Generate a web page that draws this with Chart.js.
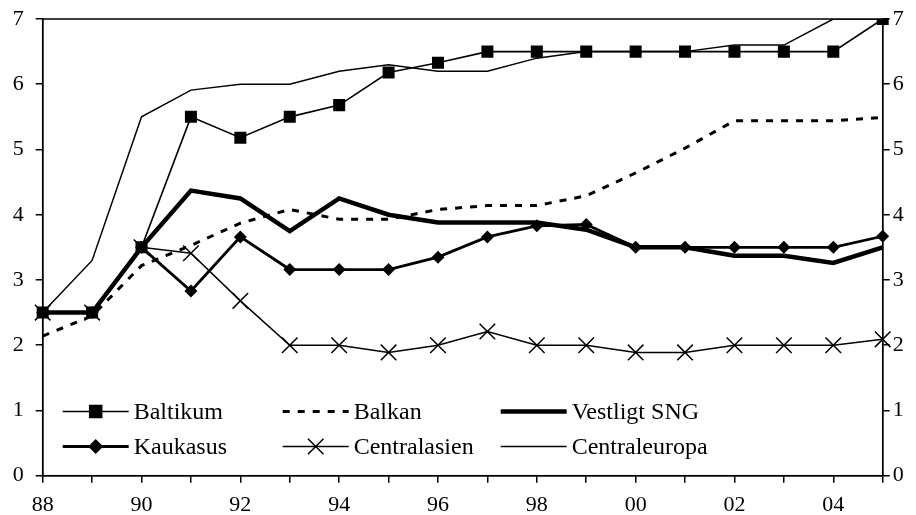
<!DOCTYPE html>
<html>
<head>
<meta charset="utf-8">
<script src="https://cdn.jsdelivr.net/npm/chart.js@4/dist/chart.umd.min.js"></script>
<style>
  body { margin: 0; background: #fff; }
  #wrap { width: 916px; height: 515px; }
</style>
</head>
<body>
<div id="wrap"><canvas id="chart"></canvas></div>
<script>
// years 1988-2005
const years = ['88', '89', '90', '91', '92', '93', '94', '95', '96', '97', '98', '99', '00', '01', '02', '03', '04', '05'];
const yTicks = [0, 1, 2, 3, 4, 5, 6, 7];

const baltikum      = [2.5, 2.5, 3.5, 5.5, 5.18, 5.5, 5.68, 6.18, 6.33, 6.5, 6.5, 6.5, 6.5, 6.5, 6.5, 6.5, 6.5, 7.0];
const balkan        = [2.14, 2.45, 3.22, 3.53, 3.87, 4.08, 3.93, 3.93, 4.08, 4.14, 4.14, 4.29, 4.64, 5.02, 5.44, 5.44, 5.44, 5.49];
const vestligtSNG   = [2.5, 2.5, 3.5, 4.37, 4.25, 3.75, 4.25, 4.0, 3.88, 3.88, 3.88, 3.77, 3.5, 3.5, 3.37, 3.37, 3.26, 3.5];
const kaukasus      = [2.5, 2.5, 3.5, 2.83, 3.66, 3.16, 3.16, 3.16, 3.35, 3.66, 3.83, 3.85, 3.5, 3.5, 3.5, 3.5, 3.5, 3.67];
const centralasien  = [2.5, 2.5, 3.5, 3.41, 2.68, 2.0, 2.0, 1.89, 2.0, 2.21, 2.0, 2.0, 1.89, 1.89, 2.0, 2.0, 2.0, 2.09];
const centraleuropa = [2.5, 3.3, 5.5, 5.91, 6.0, 6.0, 6.2, 6.3, 6.2, 6.2, 6.4, 6.5, 6.5, 6.5, 6.6, 6.6, 7.0, 7.0];

const serif = 'Liberation Serif';

// legend drawn inside the plot, 3 columns x 2 rows
const innerLegend = {
    id: 'innerLegend',
    afterDatasetsDraw(chart) {
        const ctx = chart.ctx;
        const cols = [20, 240, 458];
        const rows = [411.5, 446.5];
        ctx.save();
        chart.data.datasets.forEach((ds, i) => {
            const x0 = chart.chartArea.left + cols[i % 3];
            const y = rows[Math.floor(i / 3)];
            ctx.strokeStyle = '#000';
            ctx.lineWidth = ds.borderWidth;
            ctx.setLineDash(ds.borderDash || []);
            ctx.beginPath();
            ctx.moveTo(x0, y);
            ctx.lineTo(x0 + 66, y);
            ctx.stroke();
            ctx.setLineDash([]);
            if (ds.pointRadius > 0) {
                ctx.fillStyle = '#000';
                ctx.lineWidth = ds.pointBorderWidth || 1.5;
                Chart.helpers.drawPoint(ctx, {
                    pointStyle: ds.pointStyle,
                    radius: ds.pointRadius,
                    rotation: 0,
                    borderWidth: ds.pointBorderWidth || 1.5
                }, x0 + 33, y);
            }
            ctx.fillStyle = '#000';
            ctx.font = '24px "' + serif + '"';
            ctx.textBaseline = 'middle';
            ctx.fillText(ds.label, x0 + 71, y + 1);
        });
        // plot frame
        const a = chart.chartArea;
        ctx.strokeStyle = '#000';
        ctx.lineWidth = 1.5;
        ctx.strokeRect(a.left, a.top, a.right - a.left, a.bottom - a.top);
        ctx.restore();
    }
};

const tickFont = { family: serif, size: 22 };
const yTickFont = { family: serif, size: 22, lineHeight: 0.5 };

new Chart(document.getElementById('chart'), {
    type: 'line',
    data: {
        labels: years,
        datasets: [
            { label: 'Baltikum', data: baltikum, borderColor: '#000', backgroundColor: '#000', borderWidth: 1.6,
              pointStyle: 'rect', pointRadius: 8.5, pointBorderWidth: 0 },
            { label: 'Balkan', data: balkan, borderColor: '#000', borderWidth: 3, borderDash: [7, 8],
              pointRadius: 0 },
            { label: 'Vestligt SNG', data: vestligtSNG, borderColor: '#000', borderWidth: 4.5,
              pointRadius: 0 },
            { label: 'Kaukasus', data: kaukasus, borderColor: '#000', backgroundColor: '#000', borderWidth: 2.8,
              pointStyle: 'rectRot', pointRadius: 6.5, pointBorderWidth: 0 },
            { label: 'Centralasien', data: centralasien, borderColor: '#000', backgroundColor: '#000', borderWidth: 1.5,
              pointStyle: 'crossRot', pointRadius: 11, pointBorderWidth: 1.5 },
            { label: 'Centraleuropa', data: centraleuropa, borderColor: '#000', borderWidth: 1.5,
              pointRadius: 0 }
        ]
    },
    options: {
        responsive: true,
        maintainAspectRatio: false,
        animation: false,
        layout: { padding: { top: 19, left: 0, right: 0, bottom: 0 } },
        elements: { line: { tension: 0 } },
        plugins: {
            legend: { display: false },
            tooltip: { enabled: false }
        },
        scales: {
            x: {
                type: 'category',
                offset: false,
                grid: { display: true, drawOnChartArea: false, drawTicks: true, tickLength: 7, color: '#000', lineWidth: 1.5 },
                border: { display: true, color: '#000', width: 1.5 },
                ticks: {
                    color: '#000', font: tickFont, padding: 9, maxRotation: 0, autoSkip: false,
                    callback: (v, i) => (i % 2 === 0 ? years[i] : '')
                },
                afterFit: s => { s.height = 39.3; }
            },
            y: {
                position: 'left',
                min: 0, max: 7,
                afterBuildTicks: s => { s.ticks = yTicks.map(v => ({ value: v })); },
                grid: { display: true, drawOnChartArea: false, drawTicks: true, tickLength: 7, color: '#000', lineWidth: 1.5 },
                border: { display: true, color: '#000', width: 1.5 },
                ticks: { color: '#000', font: yTickFont, padding: 12 },
                afterFit: s => { s.width = 42.7; }
            },
            y2: {
                position: 'right',
                min: 0, max: 7,
                afterBuildTicks: s => { s.ticks = yTicks.map(v => ({ value: v })); },
                grid: { display: true, drawOnChartArea: false, drawTicks: true, tickLength: 7, color: '#000', lineWidth: 1.5 },
                border: { display: true, color: '#000', width: 1.5 },
                ticks: { color: '#000', font: yTickFont, padding: 3 },
                afterFit: s => { s.width = 33.3; }
            }
        }
    },
    plugins: [innerLegend]
});
</script>
</body>
</html>
